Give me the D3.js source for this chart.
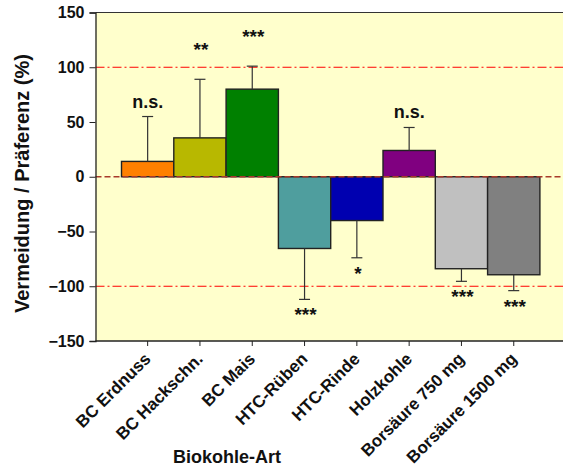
<!DOCTYPE html>
<html>
<head>
<meta charset="utf-8">
<script src="https://cdn.jsdelivr.net/npm/d3@7"></script>
<style>
  body { margin: 0; background: #fff; }
  text { font-family: "Liberation Sans", Arial, sans-serif; font-weight: bold; }
</style>
</head>
<body>
<div id="chart"></div>
<script>
var categories = ["BC Erdnuss", "BC Hackschn.", "BC Mais", "HTC-Rüben", "HTC-Rinde", "Holzkohle", "Borsäure 750 mg", "Borsäure 1500 mg"];
var means = [14, 35.5, 80, -65.5, -40, 24, -84, -89.5];
var errors = [41, 53.5, 21, 46.5, 34, 21, 11.5, 14.5];
var signif = ["n.s.", "**", "***", "***", "*", "n.s.", "***", "***"];
var barColors = ["#FF8000", "#B8B800", "#008000", "#4F9E9E", "#0000B0", "#800080", "#C0C0C0", "#808080"];
var yTicks = [-150, -100, -50, 0, 50, 100, 150];

function init(){
  var w = 563, h = 470;
  var left = 95.5, top = 12.5, bottom = 341;

  var svg = d3.select("#chart").append("svg")
    .attr("width", w)
    .attr("height", h);

  var xScale = d3.scaleBand()
    .domain(categories)
    .range([left + 26, left + 26 + 52.3 * categories.length])
    .padding(0);

  var yScale = d3.scaleLinear()
    .domain([-150, 150])
    .range([bottom, top]);

  // plot background
  svg.append("rect")
    .attr("x", left).attr("y", top)
    .attr("width", w - left).attr("height", bottom - top)
    .style("fill", "#FFFFCC");

  svg.append("line")
    .attr("x1", left).attr("x2", w)
    .attr("y1", top).attr("y2", top)
    .style("stroke", "#333").style("stroke-width", 1.2);

  // +/-100 lines
  [100, -100].forEach(function(v){
    svg.append("line")
      .attr("x1", left).attr("x2", w)
      .attr("y1", yScale(v)).attr("y2", yScale(v))
      .style("stroke", "#FF0000").style("stroke-width", 1)
      .style("stroke-dasharray", "9,3,2,3");
  });

  // bars
  svg.selectAll(".bar")
    .data(categories)
    .enter().append("rect")
    .attr("class", "bar")
    .attr("x", function(d){ return xScale(d); })
    .attr("width", xScale.bandwidth())
    .attr("y", function(d, i){ return yScale(Math.max(0, means[i])); })
    .attr("height", function(d, i){ return Math.abs(yScale(means[i]) - yScale(0)); })
    .style("fill", function(d, i){ return barColors[i]; })
    .style("stroke", "#222")
    .style("stroke-width", 1.4);

  // error bars + significance
  categories.forEach(function(d, i){
    var cx = xScale(d) + xScale.bandwidth() / 2;
    var sign = means[i] >= 0 ? 1 : -1;
    var y0 = yScale(means[i]);
    var y1 = yScale(means[i] + sign * errors[i]);
    svg.append("line")
      .attr("x1", cx).attr("x2", cx)
      .attr("y1", y0).attr("y2", y1)
      .style("stroke", "#333").style("stroke-width", 1.2);
    svg.append("line")
      .attr("x1", cx - 5.5).attr("x2", cx + 5.5)
      .attr("y1", y1).attr("y2", y1)
      .style("stroke", "#333").style("stroke-width", 1.2);

    var ns = signif[i] === "n.s.";
    var ty;
    if (ns) ty = y1 - 9;
    else ty = sign > 0 ? y1 - 23 : y1 + 22;
    svg.append("text")
      .attr("x", cx + (ns ? 0 : 1))
      .attr("y", ty)
      .attr("text-anchor", "middle")
      .style("font-size", ns ? "18px" : "19px")
      .style("fill", "#111")
      .text(signif[i]);
  });

  // zero line
  svg.append("line")
    .attr("x1", left).attr("x2", w)
    .attr("y1", yScale(0)).attr("y2", yScale(0))
    .style("stroke", "#A83A2A").style("stroke-width", 1.5)
    .style("stroke-dasharray", "6,3");

  // axes
  var yAxis = d3.axisLeft(yScale).tickValues(yTicks).tickSize(6).tickPadding(5);
  var gy = svg.append("g")
    .attr("transform", "translate(" + left + ",0)")
    .call(yAxis);
  gy.select(".domain").style("stroke", "#222").style("stroke-width", 1.3);
  gy.selectAll(".tick line").style("stroke", "#222");
  gy.selectAll("text").style("font-size", "16px").style("font-weight", "bold")
    .style("font-family", "Liberation Sans, Arial, sans-serif").style("fill", "#111");

  var xAxis = d3.axisBottom(xScale).tickSize(5).tickSizeOuter(0);
  var gx = svg.append("g")
    .attr("transform", "translate(0," + bottom + ")")
    .call(xAxis);
  gx.select(".domain").attr("d", "M" + left + ",0H" + w).style("stroke", "#222").style("stroke-width", 1.3);
  gx.selectAll(".tick line").style("stroke", "#222");
  gx.selectAll("text")
    .attr("text-anchor", "end")
    .attr("y", 0).attr("dy", 0)
    .attr("transform", "translate(4,19) rotate(-45)")
    .style("font-size", "17px").style("font-weight", "bold")
    .style("font-family", "Liberation Sans, Arial, sans-serif").style("fill", "#111");

  // titles
  svg.append("text")
    .attr("transform", "translate(29,183.5) rotate(-90)")
    .attr("text-anchor", "middle")
    .style("font-size", "20px")
    .style("fill", "#111")
    .text("Vermeidung / Präferenz (%)");

  svg.append("text")
    .attr("x", 227).attr("y", 463)
    .attr("text-anchor", "middle")
    .style("font-size", "18px")
    .style("fill", "#111")
    .text("Biokohle-Art");
}

window.onload = init;
</script>
</body>
</html>
